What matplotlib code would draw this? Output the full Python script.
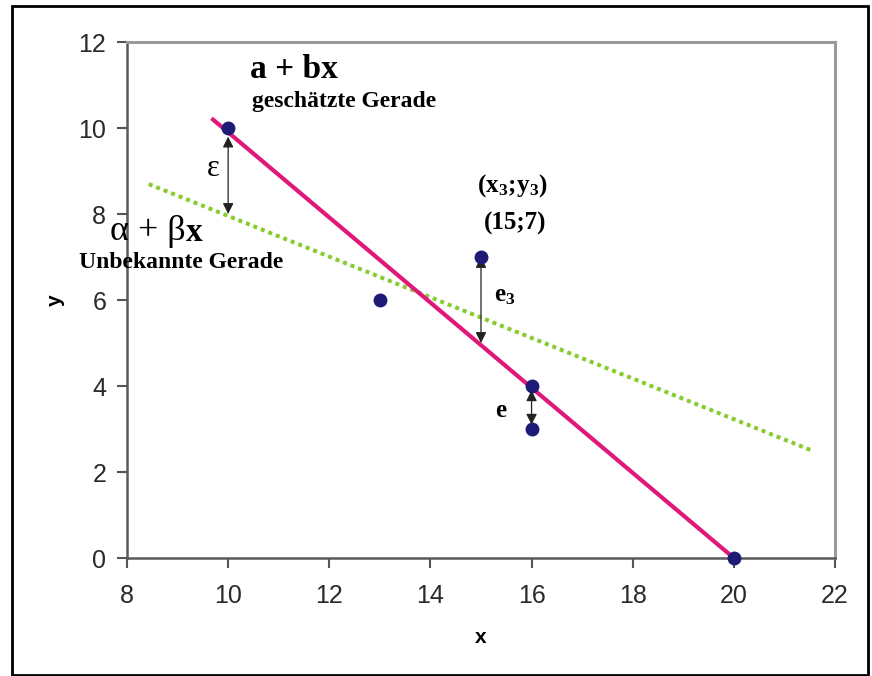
import matplotlib
matplotlib.use("Agg")
import matplotlib.pyplot as plt
import numpy as np
from matplotlib.patches import Rectangle

# ---- data ----
x_obs = [10, 13, 15, 16, 16, 20]
y_obs = [10, 6, 7, 4, 3, 0]

# estimated line a + bx
a_fit, b_fit = 19.8, -0.99
fit_xrange = [9.67, 20.0]
# unknown true line alpha + beta x
alpha_true, beta_true = 12.68, -0.4726
true_xrange = [8.43, 21.57]

# residual arrows: (x, y_top, y_bottom)
arrow_x = [10, 15, 16]
arrow_top = [9.8, 7.0, 3.9]
arrow_bot = [8.0, 5.0, 3.1]

xticks = [8, 10, 12, 14, 16, 18, 20, 22]
yticks = [0, 2, 4, 6, 8, 10, 12]

SERIF = "Liberation Serif"
SANS = "Liberation Sans"
plt.rcParams["mathtext.fontset"] = "custom"
plt.rcParams["mathtext.rm"] = SERIF
plt.rcParams["mathtext.bf"] = SERIF + ":bold"
plt.rcParams["mathtext.it"] = SERIF + ":italic"

fig = plt.figure(figsize=(8.72, 6.76), dpi=100)
ax = fig.add_axes([127/872, 1-558/676, (835-127)/872, (558-42)/676])

# outer frame
fig.patches.append(Rectangle((12/872, 1/676), (868-12)/872, (669)/676,
                             transform=fig.transFigure, fill=False,
                             edgecolor="black", linewidth=2))

ax.set_xlim(8, 22)
ax.set_ylim(0, 12)
ax.set_xticks(xticks)
ax.set_yticks(yticks)
ax.tick_params(axis="both", labelsize=18, colors="#555555", labelcolor="#2a2a2a",
               length=7, width=1.5, direction="out")
ax.tick_params(axis="y", pad=8)
ax.tick_params(axis="x", pad=12)
for lab in ax.get_xticklabels() + ax.get_yticklabels():
    lab.set_fontfamily(SANS)

for s in ["left", "bottom"]:
    ax.spines[s].set_color("#5a5a5a")
    ax.spines[s].set_linewidth(1.8)
for s in ["top", "right"]:
    ax.spines[s].set_color("#9a9a9a")
    ax.spines[s].set_linewidth(2.2)

ax.set_xlabel("x", fontsize=15, fontweight="bold", family=SANS, labelpad=14)
ax.set_ylabel("y", fontsize=15, fontweight="bold", family=SANS, labelpad=10)

# lines
fx = np.array(fit_xrange)
ax.plot(fx, a_fit + b_fit * fx, color="#E0187A", lw=3.0, solid_capstyle="butt", zorder=3)
tx = np.array(true_xrange)
ax.plot(tx, alpha_true + beta_true * tx, color="#86CC2E", lw=2.9,
        linestyle=(0, (1, 1)), dash_capstyle="butt", zorder=2)

# points
ax.scatter(x_obs, y_obs, s=100, color="#1E1A78", zorder=5, clip_on=False, linewidths=0)

# arrows
for xa, yt, yb in zip(arrow_x, arrow_top, arrow_bot):
    ax.annotate("", xy=(xa, yb), xytext=(xa, yt),
                arrowprops=dict(arrowstyle="<|-|>", color="#222222", lw=0.9,
                                mutation_scale=16, shrinkA=0, shrinkB=0),
                zorder=4)

# texts
ax.text(10.43, 11.35, "a + bx", fontsize=24, fontweight="bold", family=SERIF,
        ha="left", va="center")
ax.text(10.47, 10.62, "geschätzte Gerade", fontsize=17, fontweight="bold", family=SERIF,
        ha="left", va="center")
ax.text(9.7, 9.05, "ε", fontsize=22, family=SERIF, ha="center", va="center")
t_ab = ax.text(7.66, 7.6, "α + β", fontsize=26, family=SERIF, ha="left", va="center")
ax.annotate("x", xy=(1.0, 0.45), xycoords=t_ab, fontsize=24, fontweight="bold",
            family=SERIF, ha="left", va="center")
ax.text(9.07, 6.88, "Unbekannte Gerade", fontsize=17, fontweight="bold", family=SERIF,
        ha="center", va="center")
ax.text(15.61, 8.67, r"$\mathbf{(x_3;\!y_3)}$", fontsize=18, ha="center", va="center")
ax.text(15.67, 7.77, "(15;7)", fontsize=18, fontweight="bold", family=SERIF,
        ha="center", va="center")
ax.text(15.47, 6.12, r"$\mathbf{e_3}$", fontsize=18, ha="center", va="center")
ax.text(15.38, 3.44, "e", fontsize=18, fontweight="bold", family=SERIF,
        ha="center", va="center")

fig.savefig("out.png", dpi=100)
